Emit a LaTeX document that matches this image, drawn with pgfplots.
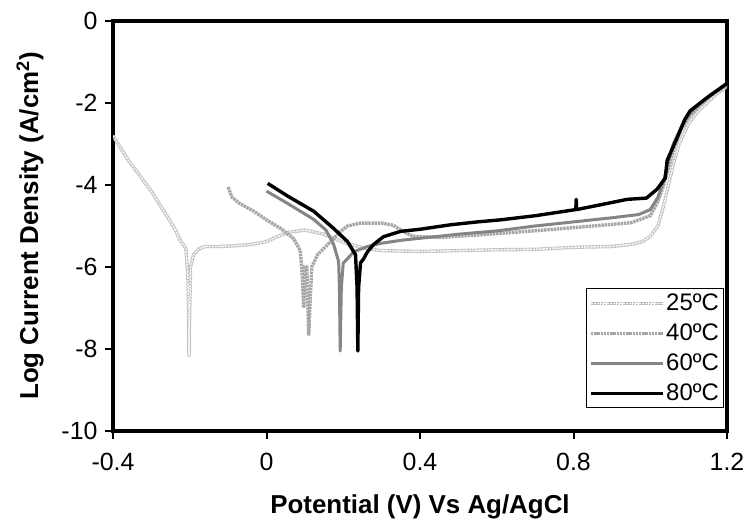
\documentclass[border=0pt]{standalone}
\usepackage{fontspec}
\setmainfont{Liberation Sans}
\usepackage{pgfplots}
\pgfplotsset{compat=1.18}
\definecolor{c25}{HTML}{BDBDBD}
\definecolor{c40}{HTML}{A6A6A6}
\definecolor{c60}{HTML}{858585}
\begin{document}
\begin{tikzpicture}[x=1bp,y=1bp]
\useasboundingbox (0,0) rectangle (750,532);
\begin{axis}[
  at={(113bp,101bp)}, anchor=south west,
  width=614bp, height=410bp, scale only axis,
  xmin=-0.4, xmax=1.2, ymin=-10, ymax=0,
  xtick={-0.4,0,0.4,0.8,1.2}, xticklabels={-0.4,0,0.4,0.8,1.2},
  ytick={-10,-8,-6,-4,-2,0}, yticklabels={-10,-8,-6,-4,-2,0},
  tick pos=left, tick align=outside,
  major tick length=8bp,
  tick style={black, line width=2bp},
  axis line style={black, line width=3.5bp},
  ticklabel style={font=\fontsize{25}{25}\selectfont},
  xticklabel style={yshift=-11bp},
  yticklabel style={xshift=-4bp},
  /pgf/number format/assume math mode=true,
  xlabel={\textbf{Potential (V) Vs Ag/AgCl}},
  ylabel={\textbf{Log Current Density (A/cm\textsuperscript{2})}},
  label style={font=\fontsize{26}{26}\selectfont},
  xlabel style={at={(axis description cs:0.5,-0.185)}, anchor=center},
  ylabel style={at={(axis description cs:-0.135,0.5)}, anchor=center},
  legend style={at={(rel axis cs:0.995,0.055)}, anchor=south east,
    draw=black, line width=1.2bp, font=\fontsize{24}{24}\selectfont,
    row sep=7bp, inner sep=3bp,
    nodes={inner sep=1.5bp, text height=17bp, text depth=3bp}},
  legend cell align=left,
  legend image code/.code={\draw[#1] (0bp,0bp) -- (72bp,0bp);},
  clip=true,
]
% 25 C
\addplot[c25, line width=3.4bp, dash pattern=on 2.6bp off 0.6bp,
  postaction={draw=white, line width=1.4bp, dash pattern=on 1.8bp off 1.4bp}] coordinates {
(-0.400,-2.80) (-0.38,-3.10) (-0.36,-3.40) (-0.34,-3.65) (-0.32,-3.90)
(-0.30,-4.15) (-0.28,-4.45) (-0.26,-4.75) (-0.24,-5.05) (-0.225,-5.35)
(-0.21,-5.55) (-0.205,-6.2) (-0.203,-7.0) (-0.202,-8.2) (-0.200,-7.0)
(-0.198,-6.0) (-0.19,-5.7) (-0.175,-5.55) (-0.16,-5.5) (-0.12,-5.5)
(-0.08,-5.48) (-0.04,-5.45) (0.00,-5.38) (0.03,-5.25) (0.06,-5.15)
(0.10,-5.1) (0.15,-5.2) (0.20,-5.4) (0.26,-5.55) (0.30,-5.6)
(0.40,-5.62) (0.50,-5.6) (0.60,-5.58) (0.70,-5.57) (0.80,-5.52)
(0.90,-5.5) (0.95,-5.45) (0.98,-5.38) (1.00,-5.25) (1.02,-5.0)
(1.035,-4.5) (1.045,-4.1) (1.06,-3.5) (1.075,-3.0) (1.09,-2.7)
(1.10,-2.5) (1.125,-2.2) (1.148,-2.0) (1.17,-1.8) (1.2,-1.6)
};
\addlegendentry{25ºC}
% 40 C
\addplot[c40, line width=3.4bp, dash pattern=on 2.4bp off 0.8bp] coordinates {
(-0.10,-4.05) (-0.09,-4.3) (-0.07,-4.45) (-0.033,-4.64) (0.0,-4.85)
(0.037,-5.06) (0.071,-5.31) (0.088,-5.6) (0.093,-6.2) (0.097,-7.0)
(0.100,-6.0) (0.105,-6.0) (0.108,-7.0) (0.110,-7.67) (0.113,-7.0)
(0.118,-6.0) (0.133,-5.7) (0.16,-5.45) (0.193,-5.13) (0.211,-5.0)
(0.245,-4.93) (0.30,-4.93) (0.33,-4.98) (0.35,-5.1) (0.38,-5.25)
(0.45,-5.28) (0.55,-5.22) (0.65,-5.15) (0.75,-5.08) (0.85,-5.0)
(0.95,-4.92) (1.00,-4.75) (1.02,-4.4) (1.035,-4.0) (1.05,-3.5)
(1.065,-3.0) (1.08,-2.65) (1.10,-2.35) (1.13,-2.05) (1.16,-1.8) (1.2,-1.57)
};
\addlegendentry{40ºC}
% 60 C
\addplot[c60, line width=3bp, line join=round] coordinates {
(0.00,-4.15) (0.055,-4.45) (0.123,-4.84) (0.155,-5.1) (0.175,-5.45)
(0.188,-5.87) (0.190,-6.5) (0.192,-8.05) (0.195,-6.5) (0.20,-5.9)
(0.211,-5.8) (0.227,-5.63) (0.263,-5.5) (0.30,-5.42) (0.35,-5.35)
(0.40,-5.3) (0.50,-5.2) (0.60,-5.12) (0.70,-5.0) (0.80,-4.9)
(0.90,-4.8) (0.97,-4.72) (1.00,-4.6) (1.02,-4.3) (1.035,-3.9)
(1.048,-3.4) (1.06,-3.0) (1.08,-2.6) (1.10,-2.3) (1.13,-2.0)
(1.16,-1.78) (1.2,-1.55)
};
\addlegendentry{60ºC}
% 80 C
\addplot[black, line width=3.4bp, line join=round] coordinates {
(0.003,-3.96) (0.055,-4.27) (0.123,-4.64) (0.175,-5.06) (0.211,-5.38)
(0.232,-5.7) (0.236,-6.5) (0.238,-8.05) (0.240,-6.5) (0.245,-5.9)
(0.253,-5.8) (0.263,-5.63) (0.279,-5.45) (0.305,-5.26) (0.35,-5.13)
(0.40,-5.08) (0.48,-4.97) (0.55,-4.9) (0.61,-4.85) (0.70,-4.75)
(0.806,-4.6) (0.807,-4.35) (0.808,-4.6) (0.877,-4.47) (0.94,-4.35)
(0.99,-4.32) (1.018,-4.1) (1.039,-3.83) (1.044,-3.4) (1.07,-2.85)
(1.09,-2.4) (1.104,-2.19) (1.148,-1.87) (1.2,-1.52)
};
\addlegendentry{80ºC}
\end{axis}
\end{tikzpicture}
\end{document}
